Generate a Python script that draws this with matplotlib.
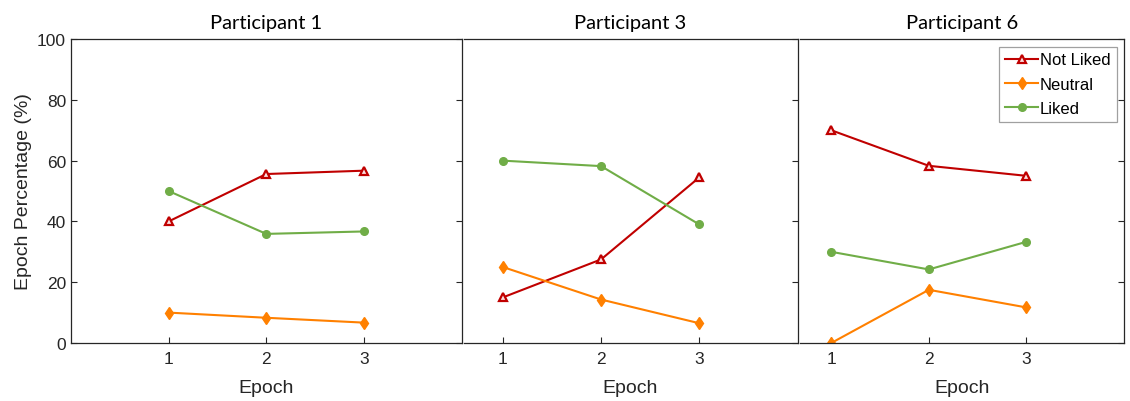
import numpy as np
import matplotlib.pyplot as plt

# epoch percentages
epochs = [1, 2, 3]
participants = ['Participant 1', 'Participant 3', 'Participant 6']
not_liked = [[40, 55.6, 56.7], [15, 27.5, 54.5], [70, 58.3, 55]]
neutral = [[10, 8.3, 6.7], [25, 14.3, 6.5], [0, 17.5, 11.7]]
liked = [[50, 35.9, 36.7], [60, 58.2, 39], [30, 24.2, 33.3]]
x_starts = [0, 0.6, 0.68]

plt.rcParams['font.family'] = ['Liberation Sans', 'DejaVu Sans']
dark = '#262626'

fig = plt.figure(figsize=(11.3, 4.02), dpi=100)
boxes = [[0.0628, 0.1443, 0.3457, 0.756],
         [0.4102, 0.1443, 0.2956, 0.756],
         [0.7080, 0.1443, 0.2867, 0.756]]

for i, box in enumerate(boxes):
    ax = fig.add_axes(box)
    ax.plot(epochs, not_liked[i], color='#C00000', lw=1.5, marker='^',
            ms=5.5, mfc='#FBE0E0', mec='#C00000', mew=1.6, label='Not Liked')
    ax.plot(epochs, neutral[i], color='#FF8000', lw=1.5, marker='d',
            ms=6, mfc='#FF8000', mec='#FF8000', label='Neutral')
    ax.plot(epochs, liked[i], color='#70AD47', lw=1.5, marker='o',
            ms=5.5, mfc='#70AD47', mec='#70AD47', label='Liked')
    ax.set_xlim(x_starts[i], 4)
    ax.set_ylim(0, 100)
    ax.set_xticks(epochs)
    ax.set_yticks(np.arange(0, 101, 20))
    ax.tick_params(axis='y', direction='in', left=(i == 0), right=True,
                   labelleft=(i == 0), length=4, color=dark, labelcolor=dark,
                   labelsize=12.5)
    ax.tick_params(axis='x', direction='in', length=4, color=dark,
                   labelcolor=dark, labelsize=12.5, pad=6)
    for s in ax.spines.values():
        s.set_color(dark)
        s.set_linewidth(0.9)
    if i > 0:
        ax.spines['left'].set_visible(False)
    ax.set_xlabel('Epoch', fontsize=14, color=dark, labelpad=9)
    ax.set_title(participants[i], fontsize=14.5, family='Lato', pad=8)
    if i == 0:
        ax.set_ylabel('Epoch Percentage (%)', fontsize=14, color=dark)
    if i == 2:
        leg = ax.legend(loc='upper right', fontsize=12, fancybox=False,
                        handlelength=2.0, handletextpad=0.1,
                        borderaxespad=0.45, borderpad=0.35, labelspacing=0.55,
                        framealpha=1)
        leg.get_frame().set_edgecolor('#A0A0A0')
        leg.get_frame().set_linewidth(0.9)

fig.savefig('out.png', dpi=100)
